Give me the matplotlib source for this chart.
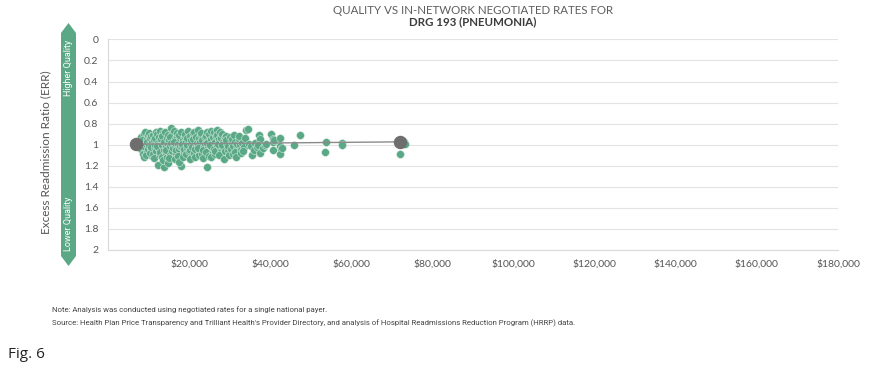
import matplotlib
matplotlib.use("Agg")
import matplotlib.pyplot as plt
from matplotlib.patches import Polygon

# negotiated rate (thousands of $) and excess readmission ratio per hospital
rate_k = [
    8.2, 8.4, 8.1, 8.6, 8.9, 8.5, 8.8, 8.3,
    9.2, 9.5, 9.1, 9.7, 9.4, 9.8, 9.3, 9.9, 9.6,
    10.1, 10.4, 10.2, 10.6, 10.8, 10.3, 10.9, 10.5, 10.7,
    11.0, 11.3, 11.6, 11.2, 11.8, 11.5, 11.9, 11.4, 11.7,
    12.1, 12.3, 12.6, 12.3, 12.8, 12.0, 12.5, 12.9, 12.7,
    13.1, 13.4, 13.2, 13.6, 13.9, 13.8, 13.3, 13.7, 13.5,
    14.0, 14.3, 14.6, 14.2, 14.8, 14.5, 14.9, 14.4, 14.7,
    15.0, 15.6, 15.2, 15.4, 15.8, 15.3, 15.9, 15.5, 15.1,
    16.2, 16.5, 16.1, 16.8, 16.4, 16.9, 16.6, 16.3, 16.7,
    17.0, 17.3, 17.6, 17.2, 17.9, 17.8, 17.4, 17.7, 17.5,
    18.1, 18.4, 18.2, 18.7, 18.9, 18.5, 18.3, 18.8,
    19.0, 19.3, 19.6, 19.2, 19.8, 19.5, 19.9, 19.4,
    20.1, 20.4, 20.2, 20.7, 20.9, 20.5, 20.8, 20.3,
    21.0, 21.3, 21.6, 21.2, 21.8, 21.5, 21.9, 21.4,
    22.2, 22.5, 22.1, 22.8, 22.4, 22.9, 22.6, 22.3,
    23.0, 23.3, 23.7, 23.2, 23.9, 23.5, 23.8, 23.4,
    24.1, 24.4, 24.6, 24.2, 24.5, 24.8, 24.9, 24.3,
    25.0, 25.3, 25.7, 25.2, 25.8, 25.5, 25.9, 25.4,
    26.1, 26.4, 26.2, 26.7, 26.9, 26.5, 26.8, 26.3,
    27.0, 27.3, 27.6, 27.2, 27.9, 27.5, 27.8, 27.4,
    28.1, 28.4, 28.7, 28.2, 28.9, 28.5, 28.8,
    29.0, 29.4, 29.7, 29.2, 29.8, 29.5,
    30.1, 30.5, 30.3, 30.8, 30.6, 30.9,
    31.0, 31.4, 31.7, 31.2, 31.9, 31.5,
    32.2, 32.6, 32.9, 32.4, 32.8,
    33.1, 33.5, 33.8, 33.3,
    34.0, 34.4, 34.8, 35.2, 35.5, 35.9, 36.3, 36.8, 37.3, 37.4,
    37.5, 37.0, 38.2, 38.8, 39.0, 40.3, 40.6, 40.7, 40.7, 41.0,
    42.5, 42.5, 42.6, 42.3, 43.0, 45.8, 47.4, 53.7, 53.5, 57.6,
    57.6, 72.0, 73.1, 73.2,
]
err = [
    0.93, 0.98, 1.04, 1.09, 0.90, 1.01, 1.12, 0.96,
    0.88, 0.95, 1.02, 1.07, 1.10, 0.91, 0.99, 1.04, 0.97,
    0.89, 0.94, 1.00, 1.05, 1.11, 1.08, 0.97, 0.92, 1.02,
    0.91, 0.96, 1.03, 1.09, 0.88, 1.00, 1.06, 1.13, 0.94,
    0.90, 0.98, 1.04, 1.19, 1.10, 1.01, 0.93, 0.87, 1.07,
    0.95, 1.00, 1.12, 0.89, 1.21, 1.05, 0.92, 0.97, 1.15,
    0.88, 1.02, 0.94, 1.08, 0.99, 1.12, 0.91, 1.05, 1.17,
    0.96, 0.84, 1.01, 1.10, 0.90, 0.93, 1.06, 0.98, 1.13,
    0.87, 0.95, 1.03, 1.08, 1.00, 0.92, 1.14, 0.97, 1.05,
    0.89, 0.99, 1.04, 1.11, 1.20, 0.94, 0.91, 1.01, 1.16,
    0.88, 0.96, 1.02, 1.07, 0.93, 1.12, 0.99, 1.04,
    0.90, 0.97, 1.03, 1.09, 0.87, 1.00, 1.06, 0.94,
    0.92, 0.99, 1.05, 1.11, 0.89, 0.96, 1.02, 1.14,
    0.95, 0.88, 1.01, 1.08, 0.93, 1.04, 0.98, 1.12,
    0.86, 0.94, 1.00, 1.06, 1.10, 0.91, 0.97, 1.03,
    0.89, 0.96, 1.02, 1.09, 0.93, 1.13, 0.99, 1.05,
    0.92, 0.88, 1.01, 1.07, 1.21, 0.96, 1.11, 0.98,
    0.90, 0.95, 1.03, 1.00, 1.08, 0.87, 0.93, 1.12,
    0.88, 0.97, 1.04, 0.92, 1.00, 1.09, 0.86, 1.06,
    0.91, 0.95, 1.02, 0.99, 1.07, 0.88, 0.94, 1.10,
    0.90, 0.97, 1.03, 1.00, 0.93, 1.14, 1.06,
    0.92, 0.99, 1.05, 0.96, 1.10, 1.01,
    0.93, 0.98, 1.04, 1.09, 0.95, 1.01,
    0.91, 0.97, 1.03, 1.07, 0.99, 1.12,
    0.95, 1.00, 1.05, 0.92, 1.08,
    0.98, 1.02, 0.94, 1.06,
    0.86, 0.85, 0.99, 1.01, 1.10, 1.055, 0.98, 1.02, 0.905, 0.945,
    1.08, 1.00, 1.03, 1.00, 0.99, 0.897, 0.945, 0.976, 1.055, 0.96,
    0.94, 1.014, 1.04, 1.09, 1.03, 1.00, 0.91, 0.97, 1.07, 0.98,
    1.00, 1.09, 0.97, 0.99,
]

# trend end points (grey)
trend_rate = [6900, 71950]
trend_err = [0.995, 0.973]

x_ticks = [20000, 40000, 60000, 80000, 100000, 120000, 140000, 160000, 180000]
y_ticks = [0, 0.2, 0.4, 0.6, 0.8, 1, 1.2, 1.4, 1.6, 1.8, 2]

green = "#5ba886"
grey_txt = "#555555"

fig = plt.figure(figsize=(8.86, 3.72), dpi=100)
ax = fig.add_axes([0.1219, 0.328, 0.8239, 0.566])

ax.scatter([r * 1000 for r in rate_k], err, s=32, color=green,
           edgecolor="#dcefe6", linewidth=0.35, zorder=3)
ax.plot(trend_rate, trend_err, color="#8a8a8a", lw=1.0, zorder=4)
ax.scatter(trend_rate, trend_err, s=75, color="#6e6e6e", zorder=5)

ax.set_xlim(0, 180000)
ax.set_ylim(2, 0)
ax.set_xticks(x_ticks)
ax.set_xticklabels(["${:,}".format(v) for v in x_ticks])
ax.set_yticks(y_ticks)
ax.set_yticklabels([("%g" % v) for v in y_ticks])
ax.tick_params(length=0, labelsize=7.5, colors=grey_txt, pad=7)
ax.yaxis.grid(True, color="#e3e3e3", lw=0.8)
ax.set_axisbelow(True)
for s in ["top", "right"]:
    ax.spines[s].set_visible(False)
for s in ["left", "bottom"]:
    ax.spines[s].set_color("#d9d9d9")
for lbl in ax.get_xticklabels() + ax.get_yticklabels():
    lbl.set_fontfamily("Lato")

# quality arrow on the left
W, H = 886.0, 372.0
x0, x1 = 61 / W, 76 / W
xm = (x0 + x1) / 2
pts = [(xm, 1 - 23 / H), (x1, 1 - 33 / H), (x1, 1 - 256 / H), (xm, 1 - 266 / H),
       (x0, 1 - 256 / H), (x0, 1 - 33 / H)]
fig.patches.append(Polygon(pts, closed=True, transform=fig.transFigure,
                           facecolor=green, edgecolor="none"))
fig.text(xm, 1 - 68 / H, "Higher Quality", rotation=90, color="white",
         fontsize=6.5, ha="center", va="center", family="Roboto")
fig.text(xm, 1 - 224 / H, "Lower Quality", rotation=90, color="white",
         fontsize=6.5, ha="center", va="center", family="Roboto")

fig.text(46 / W, 1 - 152 / H, "Excess Readmission Ratio (ERR)", rotation=90,
         color=grey_txt, fontsize=8.5, ha="center", va="center", family="Lato")

fig.text(473 / W, 1 - 11 / H, "QUALITY VS IN-NETWORK NEGOTIATED RATES FOR",
         color="#5e5e5e", fontsize=8.3, ha="center", va="center", family="Lato")
fig.text(473 / W, 1 - 22 / H, "DRG 193 (PNEUMONIA)", color="#3c3c3c",
         fontsize=8.3, ha="center", va="center", family="Lato", fontweight="bold")

fig.text(52 / W, 1 - 310 / H,
         "Note: Analysis was conducted using negotiated rates for a single national payer.",
         color="#444444", fontsize=5.6, ha="left", va="center", family="Roboto")
fig.text(52 / W, 1 - 323 / H,
         "Source: Health Plan Price Transparency and Trilliant Health's Provider Directory, "
         "and analysis of Hospital Readmissions Reduction Program (HRRP) data.",
         color="#444444", fontsize=5.6, ha="left", va="center", family="Roboto")

fig.text(8 / W, 1 - 355 / H, "Fig. 6", color="#222222", fontsize=11,
         ha="left", va="center", family="Open Sans")

fig.savefig("out.png", dpi=100)
